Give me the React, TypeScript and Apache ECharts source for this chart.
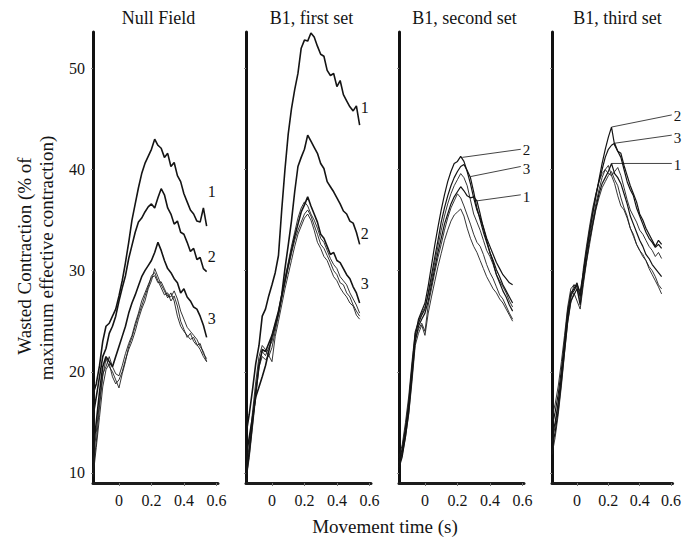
import React, { useEffect, useRef } from "react";
import * as echarts from "echarts";

// ---------- data ----------
const TIME = [
  -0.16, -0.14, -0.12, -0.1, -0.08, -0.06, -0.04, -0.02, 0, 0.02, 0.04, 0.06,
  0.08, 0.1, 0.12, 0.14, 0.16, 0.18, 0.2, 0.22, 0.24, 0.26, 0.28, 0.3, 0.32,
  0.34, 0.36, 0.38, 0.4, 0.42, 0.44, 0.46, 0.48, 0.5, 0.52, 0.54,
];
const X_TICKS = [0, 0.2, 0.4, 0.6];
const Y_TICKS = [10, 20, 30, 40, 50];
const PANEL_TITLES = ["Null Field", "B1, first set", "B1, second set", "B1, third set"];

// Null Field
const NULL_1 = [17.8,18.8,20.6,23,24.5,24.8,25.5,26.2,27.5,29,30.8,32.8,35,36.6,38.2,39.6,40.6,41.3,42,43,42.4,42.1,41.2,41.6,40.3,40.7,39.4,38.8,37.6,36.8,36,35.6,34.9,34.8,36.2,34.4];
const NULL_2 = [15.6,17.5,19.5,21.5,22.3,23.8,24.5,25.5,27,28.3,29.5,31.2,32.5,33.8,34.8,35.2,35.8,36.3,36.6,36.2,37.2,38.1,37.5,36.2,35.6,34.6,34.9,33.8,33.6,32.8,31.9,32.2,31.1,31.3,30.2,29.9];
const NULL_3 = [12,15,18,20.5,21.5,21,20.5,21.5,22.5,23.5,24.5,25.8,26.8,27.6,28.5,29.4,30,30.5,31,31.8,32.8,32,31,30.2,29.8,29.2,28.8,27.8,28.2,27.4,27,26.4,26.2,25.5,24.6,23.4];
const NULL_A = [9.6,12.5,15.5,18.5,20.2,20.8,19.5,18.8,19.2,20,21.2,22.2,23,24,25.2,26.2,27,28.2,29,30.2,29.4,28.6,28,27.3,27.8,27,25.5,24.5,24,23.6,23.2,23.4,22.7,22.2,21.5,21];
const NULL_B = [10.2,13,16.5,19.5,21.3,20.5,20,19.2,18.4,19.8,21,22.5,23.4,24.5,25.6,26.5,27.5,28.4,29.5,29.8,29,28.3,27.6,27.8,27,27.5,26.5,25,24.2,23.4,23.8,23,22.6,22.8,21.8,21.3];
const NULL_C = [11,14,17,19.8,20.5,21.5,20.5,19.8,19.6,20.6,21.8,22.8,23.6,24.8,25.8,27,27.8,28.6,29.3,29.5,28.8,28.9,28.2,27.5,27.4,28,27.2,26,25.2,24.4,24,23.6,23.2,22.5,22,21];

// B1, first set
const FIRST_1 = [13.8,15.8,18.2,20.8,22.6,25.5,26.2,27.5,28.6,29.8,31.5,36,40,43.5,46,47.9,49.5,52,52.8,52.7,53.5,53.1,52.2,51.4,51.2,49.8,49.3,49.5,48.2,48.8,47.4,46.8,46.2,45.8,46.3,44.4];
const FIRST_2 = [11.5,13.5,15.5,17.5,18.5,19.5,20.6,22,23.5,24.6,25.8,27.6,30.2,32.5,34.9,37.8,40.3,41.2,42,43.4,42.8,42.2,41.6,40.6,40.1,38.8,38.3,37.8,37.2,36.6,35.9,35.6,34.9,34.7,33.8,32.6];
const FIRST_3 = [9.5,12,15,18,20.5,22.2,22,22.8,23.6,24.8,26,27.5,29,30.5,32,33.4,34.6,35.8,36.5,37.3,36.4,35.6,34.8,33.6,33.2,32.4,31.6,31.8,31,30.8,30.2,29.6,29.2,28.4,27.8,26.8];
const FIRST_A = [9.2,11.5,14.5,17.5,20.5,21.5,21.2,21.6,21,23.5,25,26.6,28.2,29.6,31,32.4,33.6,34.4,35.2,35.6,35,34,32.8,32.2,31.4,31,30.2,29.4,29,28.3,27.8,27.4,26.8,26.5,25.6,25.2];
const FIRST_B = [10,12.8,16,19,21.5,22.6,22.2,21.5,22.4,24,25.6,27.2,28.8,30.3,31.7,33,34,34.8,35.6,36,35.4,34.5,33.6,32.6,32.2,31.5,30.8,30,29.6,28.8,28.6,27.8,27.4,26.6,26,25.5];
const FIRST_C = [9.8,12.2,15.2,18.2,21,22,21.6,22.4,23,24.4,25.8,27.6,29.2,30.8,32.4,33.8,35.2,36.2,36.8,36.4,35.6,35,34.2,33.2,32.8,32,31.2,30.6,30.2,29.4,29,28.6,27.8,27.2,26.6,25.8];

// B1, second set
const SECOND_1 = [10.5,11.6,13.6,16,19.5,23,24.5,25.2,25.8,27,28.6,30.2,31.8,33.2,34.6,35.6,36.6,37.3,37.8,38.3,37.9,37.4,37.2,37.3,36.9,35.6,34.2,33,31.8,30.8,29.6,28.8,28,27.4,26.6,26];
const SECOND_2 = [10.8,12,14,16.5,20,23.5,25.2,26,26.8,28.5,30.5,32.5,34.3,36,37.5,38.8,39.8,40.6,40.8,41.3,40.8,39.8,38.6,37.2,36,35.2,34.3,33.2,32.4,31.6,30.8,30.2,29.6,29.2,28.8,28.6];
const SECOND_3 = [11.2,12.4,14.5,17,20.5,23.8,24.8,25.6,26.2,27.8,29.5,31.3,33,34.8,36.2,37.4,38.4,39.2,39.8,40.3,40.5,39.9,39.2,37.8,36.2,35,33.8,32.8,31.8,31,30.1,29.4,28.6,28,27.4,26.8];
const SECOND_A = [11,12.2,14.2,16.8,20.4,23.2,24.2,24.8,24,26.6,28.2,29.8,31.3,32.6,34,35.2,36.2,36.9,37.6,37.2,36.4,35.5,34.6,33.6,32.8,32.4,31.6,30.6,29.8,29.2,28.4,27.6,27.2,26.5,25.8,25.2];
const SECOND_B = [10.6,11.8,13.5,15.8,19,22.6,23.8,24.6,23.6,25.8,27.4,28.9,30.4,31.7,33,34,34.9,35.5,35.8,36.1,35.4,34.2,33.2,32.4,31.8,31,30.2,29.4,28.8,28.2,27.8,27.2,26.8,26.2,25.6,25];
const SECOND_C = [11.5,12.8,15,17.6,21,24,25,25.8,26.4,27.6,29,30.8,32.4,34,35.4,36.6,37.6,38.4,39,39.6,39.2,38.4,37,35.6,34.8,34,33,32,31.4,30.6,29.6,29,28.4,27.8,27,26.4];

// B1, third set
const THIRD_1 = [12.5,14,16.2,19,22,25,27,27.6,28.2,26.6,29,31,33,34.6,36.2,37.6,38.6,39.2,39.8,40.6,39.6,39.2,38.6,37.6,36.6,35.4,34.6,33.8,33,32.4,31.6,31.2,30.6,30.2,29.8,29.4];
const THIRD_2 = [13.5,15,17,19.5,22.5,25.5,27.8,28.2,28.8,27.5,29.6,31.8,33.8,35.6,37.4,39,40.6,42,43.2,44.2,42.4,41.8,41.2,40,38.8,38,37.4,36.2,35.4,34.6,33.8,33.2,32.8,32.3,32.6,32.2];
const THIRD_3 = [14.5,16,17.8,20.2,23,26,27.6,28,28.6,27.9,29.8,32,34,35.8,37.4,38.8,40,41.2,42,42.4,42.6,41.8,41.6,40.4,39.4,38.4,37.6,36.8,35.6,35,34.2,33.6,33,32.4,33,32.6];
const THIRD_A = [11.8,13.5,15.8,18.6,21.8,24.8,26.8,27.8,27,26.2,28.6,30.8,32.6,34.4,36,37.2,38.2,38.8,39.4,39.8,39,38.4,37.2,36.2,35.4,34.2,33.6,32.6,32,31.4,31,30.2,29.6,29,28.4,27.7];
const THIRD_B = [15.5,16.8,18.6,21,23.6,26.4,28.2,28.6,28.2,27,30.2,32.4,34.4,36.2,37.6,38.8,39.6,40,39.6,39.4,39.8,40.2,39.4,38.2,37,36,35.4,34.8,34,33.6,33,32.4,32,31.4,31.8,31.2];
const THIRD_C = [13,14.6,16.8,19.6,22.8,25.6,27.2,28.6,28.4,27.4,29.4,31.6,33.4,35,36.6,38,39.2,40,40.4,39.4,38.6,37.4,36.4,36,35.2,34.2,33.4,32.6,32,31.6,31,30.4,30,29.4,28.6,28.2];

// leader annotations (data coordinates: [time, value])
const SECOND_LEADERS = [
  { label: "2", from: [0.23, 41.2], to: [0.59, 42.0] },
  { label: "3", from: [0.28, 39.3], to: [0.59, 40.3] },
  { label: "1", from: [0.32, 36.9], to: [0.59, 37.5] },
];
const THIRD_LEADERS = [
  { label: "2", from: [0.22, 44.2], to: [0.605, 45.4] },
  { label: "3", from: [0.24, 42.6], to: [0.605, 43.4] },
  { label: "1", from: [0.22, 40.6], to: [0.605, 40.6] },
];

const PANELS = [
  { labeled: [["1", NULL_1], ["2", NULL_2], ["3", NULL_3]], thin: [NULL_A, NULL_B, NULL_C], leaders: [] },
  { labeled: [["1", FIRST_1], ["2", FIRST_2], ["3", FIRST_3]], thin: [FIRST_A, FIRST_B, FIRST_C], leaders: [] },
  { labeled: [["1", SECOND_1], ["2", SECOND_2], ["3", SECOND_3]], thin: [SECOND_A, SECOND_B, SECOND_C], leaders: SECOND_LEADERS },
  { labeled: [["1", THIRD_1], ["2", THIRD_2], ["3", THIRD_3]], thin: [THIRD_A, THIRD_B, THIRD_C], leaders: THIRD_LEADERS },
];

// ---------- styling ----------
const FONT = '"Liberation Serif", "Times New Roman", Times, serif';
const INK = "#141414";
const END_OFFSETS: Record<number, Record<string, number[]>> = {
  0: { "1": [0, -35], "2": [0, -15], "3": [0, -19] },
  1: { "1": [0, -18], "2": [0, -11], "3": [0, -20] },
};
const LEADER_OFFSETS: Record<string, number[]> = { "2": [0, 1], "3": [0, 3], "1": [0, 2] };

function buildOption() {
  const grid: any[] = [];
  const xAxis: any[] = [];
  const yAxis: any[] = [];
  const series: any[] = [];
  const graphic: any[] = [];

  PANELS.forEach((p, i) => {
    const left = 93 + 153 * i;
    grid.push({ left, top: 32, width: 125, height: 451 });
    xAxis.push({
      type: "value",
      gridIndex: i,
      min: -0.16,
      max: 0.61,
      axisLine: { show: true, onZero: false, lineStyle: { color: "#1c1c1c", width: 3 } },
      axisTick: { show: true, customValues: X_TICKS, length: 3, lineStyle: { color: "#777", width: 1 } },
      axisLabel: {
        show: true,
        customValues: X_TICKS,
        formatter: (v: number) => String(v),
        color: INK,
        fontSize: 16,
        fontFamily: FONT,
        margin: 9,
      },
      splitLine: { show: false },
    });
    yAxis.push({
      type: "value",
      gridIndex: i,
      min: 9,
      max: 53.6,
      axisLine: { show: true, onZero: false, lineStyle: { color: "#111", width: 3 } },
      axisTick: { show: true, customValues: Y_TICKS, length: 2, lineStyle: { color: "#888", width: 1 } },
      axisLabel: {
        show: i === 0,
        customValues: Y_TICKS,
        color: INK,
        fontSize: 16,
        fontFamily: FONT,
        margin: 8,
      },
      splitLine: { show: false },
    });

    const toPts = (vals: number[]) => TIME.map((t, k) => [t, vals[k]]);

    p.thin.forEach((vals) => {
      series.push({
        type: "line",
        xAxisIndex: i,
        yAxisIndex: i,
        data: toPts(vals),
        showSymbol: false,
        silent: true,
        lineStyle: { color: "#1e1e1e", width: 0.9 },
      });
    });

    p.labeled.forEach(([lab, vals]: any) => {
      const offs = END_OFFSETS[i];
      series.push({
        type: "line",
        xAxisIndex: i,
        yAxisIndex: i,
        data: toPts(vals),
        showSymbol: false,
        silent: true,
        lineStyle: { color: INK, width: i < 2 ? 1.6 : 1.2 },
        endLabel: offs
          ? {
              show: true,
              formatter: lab,
              color: INK,
              fontSize: 16,
              fontFamily: FONT,
              distance: 1,
              offset: offs[lab],
            }
          : { show: false },
      });
    });

    p.leaders.forEach((ld: any) => {
      series.push({
        type: "line",
        xAxisIndex: i,
        yAxisIndex: i,
        data: [ld.from, ld.to],
        showSymbol: false,
        silent: true,
        clip: false,
        lineStyle: { color: INK, width: 0.8 },
        endLabel: {
          show: true,
          formatter: ld.label,
          color: INK,
          fontSize: 15,
          fontFamily: FONT,
          distance: 2,
          offset: LEADER_OFFSETS[ld.label],
        },
      });
    });

    graphic.push({
      type: "text",
      x: left + 62.5 + 3,
      y: 18,
      style: {
        text: PANEL_TITLES[i],
        textAlign: "center",
        textVerticalAlign: "middle",
        fill: INK,
        font: `18px ${FONT}`,
      },
    });
  });

  graphic.push({
    type: "text",
    x: 385,
    y: 526,
    style: {
      text: "Movement time (s)",
      textAlign: "center",
      textVerticalAlign: "middle",
      fill: INK,
      font: `19px ${FONT}`,
    },
  });
  graphic.push({
    type: "text",
    x: 24,
    y: 256,
    rotation: Math.PI / 2,
    style: {
      text: "Wasted Contraction (% of",
      textAlign: "center",
      textVerticalAlign: "middle",
      fill: INK,
      font: `19px ${FONT}`,
    },
  });
  graphic.push({
    type: "text",
    x: 46,
    y: 258,
    rotation: Math.PI / 2,
    style: {
      text: "maximum effective contraction)",
      textAlign: "center",
      textVerticalAlign: "middle",
      fill: INK,
      font: `19px ${FONT}`,
    },
  });

  return {
    animation: false,
    backgroundColor: "#ffffff",
    grid,
    xAxis,
    yAxis,
    series,
    graphic,
  };
}

export default function App() {
  const ref = useRef<HTMLDivElement>(null);
  useEffect(() => {
    if (!ref.current) return;
    const chart = echarts.init(ref.current, undefined, { renderer: "svg" });
    chart.setOption(buildOption() as any);
    return () => chart.dispose();
  }, []);
  return (
    <div
      ref={ref}
      style={{ position: "absolute", left: 0, top: 0, width: 684, height: 540, background: "#fff" }}
    />
  );
}
